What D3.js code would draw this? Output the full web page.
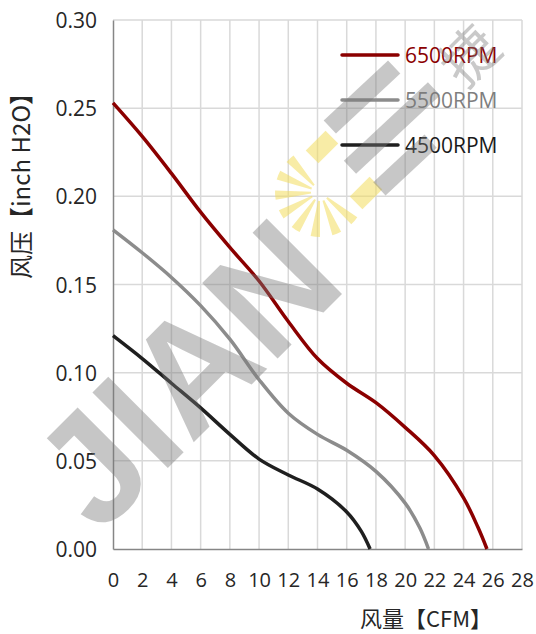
<!DOCTYPE html>
<html>
<head>
<meta charset="utf-8">
<script src="https://cdn.jsdelivr.net/npm/d3@7"></script>
<style>
  html, body { margin: 0; padding: 0; background: #fff; }
  svg { display: block; }
</style>
</head>
<body>
<svg id="chart"></svg>
<script>
// chart values
const flowTicks = [0, 2, 4, 6, 8, 10, 12, 14, 16, 18, 20, 22, 24, 26, 28];
const pressureTicks = [0, 0.05, 0.10, 0.15, 0.20, 0.25, 0.30];

const rpm6500 = [
    [0, 0.253], [2, 0.234], [4, 0.213], [6, 0.191], [8, 0.171], [10, 0.152],
    [12, 0.129], [14, 0.108], [16, 0.094], [18, 0.083], [20, 0.069], [22, 0.053],
    [24, 0.029], [25, 0.012], [25.6, 0]
];
const rpm5500 = [
    [0, 0.181], [2, 0.168], [4, 0.154], [6, 0.138], [8, 0.119], [10, 0.096],
    [12, 0.077], [14, 0.065], [16, 0.056], [18, 0.044], [20, 0.026], [21, 0.012],
    [21.6, 0]
];
const rpm4500 = [
    [0, 0.121], [2, 0.108], [4, 0.094], [6, 0.080], [8, 0.065], [10, 0.051],
    [12, 0.042], [14, 0.034], [16, 0.021], [17, 0.010], [17.6, 0]
];

const seriesNames = ["6500RPM", "5500RPM", "4500RPM"];
const seriesData = [rpm6500, rpm5500, rpm4500];
const seriesColors = ["#8b0000", "#8c8c8c", "#1f1f1f"];
const textColors = ["#8b0000", "#7f7f7f", "#1a1a1a"];

// TODO: layout config
const W = 536, H = 634;
const plotLeft = 113, plotRight = 522, plotTop = 20, plotBottom = 549;
const font = "'Open Sans', 'Noto Sans', sans-serif";
const cjkFont = "'Noto Sans CJK SC', 'Open Sans', sans-serif";

const svg = d3.select("#chart").attr("width", W).attr("height", H);

const x = d3.scaleLinear().domain([0, 28]).range([plotLeft, plotRight]);
const y = d3.scaleLinear().domain([0, 0.30]).range([plotBottom, plotTop]);

// ############# grid #############
svg.append("g").attr("class", "grid-x")
    .selectAll("line").data(flowTicks.slice(1)).enter().append("line")
    .attr("x1", d => x(d)).attr("x2", d => x(d))
    .attr("y1", plotTop).attr("y2", plotBottom)
    .attr("stroke", "#d9d9d9").attr("stroke-width", 1.5);

svg.append("g").attr("class", "grid-y")
    .selectAll("line").data(pressureTicks.slice(1)).enter().append("line")
    .attr("x1", plotLeft).attr("x2", plotRight)
    .attr("y1", d => y(d)).attr("y2", d => y(d))
    .attr("stroke", "#d9d9d9").attr("stroke-width", 1.5);

// ############# axes #############
const xAxis = svg.append("g")
    .attr("transform", `translate(0, ${plotBottom})`)
    .call(d3.axisBottom(x).tickValues(flowTicks).tickSize(0).tickPadding(24).tickFormat(d3.format("d")));
xAxis.select(".domain").attr("stroke", "#868686").attr("stroke-width", 1.5);
xAxis.selectAll("text")
    .attr("font-family", font).attr("font-size", 20).attr("fill", "#262626")
    .attr("dy", "0.35em").attr("y", 31);

const yAxis = svg.append("g")
    .attr("transform", `translate(${plotLeft}, 0)`)
    .call(d3.axisLeft(y).tickValues(pressureTicks).tickSize(0).tickPadding(16).tickFormat(d3.format(".2f")));
yAxis.select(".domain").attr("stroke", "#868686").attr("stroke-width", 1.5);
yAxis.selectAll("text")
    .attr("font-family", font).attr("font-size", 21).attr("fill", "#262626")
    .attr("dy", "0.36em");

// ############# curves #############
const line = d3.line()
    .x(d => x(d[0]))
    .y(d => y(d[1]))
    .curve(d3.curveCatmullRom.alpha(0.5));

svg.append("g").attr("class", "curves")
    .selectAll("path").data(seriesData).enter().append("path")
    .attr("d", line)
    .attr("fill", "none")
    .attr("stroke", (_, i) => seriesColors[i])
    .attr("stroke-width", 3.5)
    .attr("stroke-linejoin", "round");

// ############# legend #############
const legend = svg.append("g").attr("class", "legend")
    .selectAll("g").data(seriesNames).enter().append("g")
    .attr("transform", (_, i) => `translate(342, ${55 + i * 45})`);

legend.append("line")
    .attr("x1", 0).attr("x2", 56)
    .attr("stroke", (_, i) => seriesColors[i])
    .attr("stroke-width", 3.5)
    .attr("stroke-linecap", "round");

legend.append("text")
    .attr("x", 63).attr("dy", "0.36em")
    .attr("font-family", font).attr("font-size", 21)
    .attr("fill", (_, i) => textColors[i])
    .text(d => d);

// ############# titles #############
svg.append("text")
    .attr("transform", "translate(21, 180) rotate(-90)")
    .attr("text-anchor", "middle").attr("dy", "0.36em")
    .attr("font-family", cjkFont).attr("font-size", 24).attr("fill", "#262626")
    .text("风压【inch H2O】");

svg.append("text")
    .attr("x", 426).attr("y", 619).attr("dy", "0.36em")
    .attr("text-anchor", "middle")
    .attr("font-family", cjkFont).attr("font-size", 22).attr("fill", "#262626")
    .text("风量【CFM】");

// ############# watermark #############
const mark = svg.append("g").attr("class", "watermark").attr("pointer-events", "none");

// sun rays
const ray = d3.arc().innerRadius(9).outerRadius(45);
const rayAngles = [130, 158, 186, 213, 240, 266, 292, 318];
mark.append("g")
    .attr("transform", "translate(320, 192)")
    .selectAll("path").data(rayAngles).enter().append("path")
    .attr("d", a => ray({ startAngle: (a - 6) * Math.PI / 180, endAngle: (a + 6) * Math.PI / 180 }))
    .attr("fill", "#f2dc5d").attr("opacity", 0.55);

mark.selectAll("rect.sunblock").data([[322, 147], [366, 193]]).enter().append("rect")
    .attr("class", "sunblock")
    .attr("x", -14).attr("y", -9).attr("width", 28).attr("height", 18)
    .attr("transform", d => `translate(${d[0]}, ${d[1]}) rotate(-45)`)
    .attr("fill", "#f2dc5d").attr("opacity", 0.55);

// three bars
mark.selectAll("rect.bar").data([[362, 97, 88], [392, 128, 115], [405, 165, 70]]).enter().append("rect")
    .attr("class", "bar")
    .attr("x", d => -d[2] / 2).attr("y", -9).attr("width", d => d[2]).attr("height", 18)
    .attr("transform", d => `translate(${d[0]}, ${d[1]}) rotate(-43)`)
    .attr("fill", "#7a7a7a").attr("opacity", 0.42);

mark.append("text")
    .attr("transform", "translate(185, 372) rotate(-45)")
    .attr("text-anchor", "middle").attr("dy", "0.36em")
    .attr("font-family", "'Liberation Sans', Arial, sans-serif")
    .attr("font-weight", "bold").attr("font-size", 155)
    .attr("fill", "#7a7a7a").attr("opacity", 0.42)
    .text("JIAN");

mark.append("text")
    .attr("transform", "translate(470, 56) rotate(-45)")
    .attr("text-anchor", "middle").attr("dy", "0.36em")
    .attr("font-family", cjkFont).attr("font-size", 56)
    .attr("fill", "#7a7a7a").attr("opacity", 0.4)
    .text("捷");
</script>
</body>
</html>
